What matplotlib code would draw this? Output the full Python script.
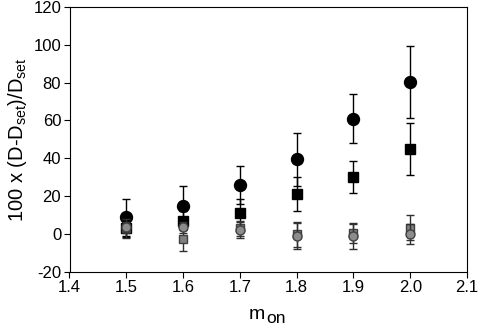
import matplotlib
matplotlib.use("Agg")
import matplotlib.pyplot as plt

plt.rcParams['font.family'] = ['Liberation Sans', 'DejaVu Sans']
plt.rcParams['mathtext.fontset'] = 'custom'
plt.rcParams['mathtext.rm'] = 'Liberation Sans'
plt.rcParams['axes.unicode_minus'] = False

m_on = [1.5, 1.6, 1.7, 1.8, 1.9, 2.0]

black_circle = [8.8, 14.5, 25.7, 39.4, 60.9, 80.3]
black_circle_err = [9.8, 11.0, 10.0, 14.0, 13.0, 19.0]

black_square = [3.3, 7.0, 11.2, 21.2, 30.2, 44.9]
black_square_err = [5.0, 5.0, 7.0, 9.0, 8.5, 14.0]

gray_square = [2.9, -2.6, 3.0, -0.3, 0.3, 3.3]
gray_square_err = [5.0, 6.5, 4.0, 6.5, 5.0, 6.5]

gray_circle = [3.5, 3.5, 2.2, -1.0, -1.3, 0.1]
gray_circle_err = [3.0, 3.0, 4.3, 7.0, 6.8, 5.3]

xticks = [1.4, 1.5, 1.6, 1.7, 1.8, 1.9, 2.0, 2.1]
yticks = [-20, 0, 20, 40, 60, 80, 100, 120]

W, H = 478, 326
fig = plt.figure(figsize=(W / 100, H / 100), dpi=100)
ax = fig.add_axes([69.5 / W, 1 - 271.7 / H, (467 - 69.5) / W, (271.7 - 7) / H])

ekw = dict(capsize=3, elinewidth=1.0, capthick=1.0, linestyle='none')
ax.errorbar(m_on, black_circle, yerr=black_circle_err, fmt='o', color='black',
            ecolor='black', markersize=8.6, markeredgecolor='black', zorder=3, **ekw)
ax.errorbar(m_on, black_square, yerr=black_square_err, fmt='s', color='black',
            ecolor='black', markersize=7, markeredgecolor='black', zorder=3, **ekw)
ax.errorbar(m_on, gray_square, yerr=gray_square_err, fmt='s', color='#808080',
            ecolor='#303030', markersize=6, markeredgecolor='#404040', zorder=4, **ekw)
ax.errorbar(m_on, gray_circle, yerr=gray_circle_err, fmt='o', color='#8c8c8c',
            ecolor='#303030', markersize=6.5, markeredgecolor='#404040', zorder=5, **ekw)

ax.set_xlim(1.4, 2.1)
ax.set_ylim(-20, 120)
ax.set_xticks(xticks)
ax.set_xticklabels([f"{v:.1f}" for v in xticks])
ax.set_yticks(yticks)
ax.tick_params(direction='out', length=4, width=0.8, labelsize=12, top=False, right=False, pad=2)
for s in ax.spines.values():
    s.set_linewidth(0.8)

# x-axis label "m" with lowered "on"
fig.text(249.0 / W, 1 - 319 / H, 'm', fontsize=14, ha='left', va='baseline')
fig.text(266.0 / W, 1 - 322.8 / H, 'on', fontsize=12.5, ha='left', va='baseline')

ax.set_ylabel(r'100 x (D-D$_{\mathregular{set}}$)/D$_{\mathregular{set}}$', fontsize=14.5, labelpad=3)

fig.savefig('out.png', dpi=100)
